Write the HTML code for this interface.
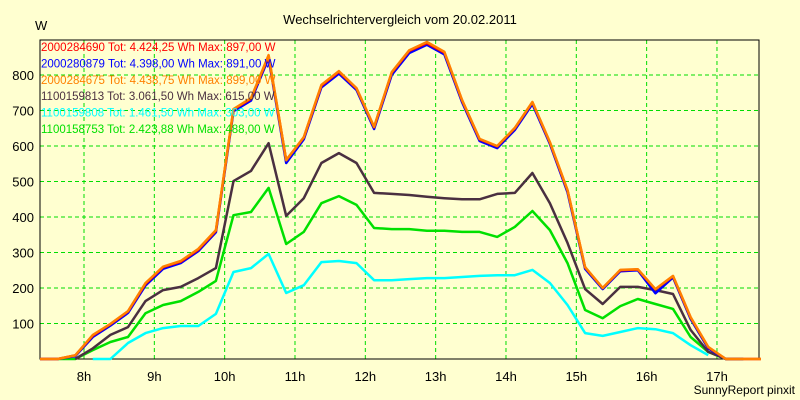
<!DOCTYPE html>
<html><head><meta charset="utf-8"><style>
html,body{margin:0;padding:0;background:#ffffd0;}
svg{display:block;font-family:"Liberation Sans",sans-serif;}
</style></head><body>
<svg id="chart" width="800" height="400" viewBox="0 0 800 400">
<rect x="0" y="0" width="800" height="400" fill="#ffffd0"/>
<text x="400" y="24" text-anchor="middle" font-size="13" fill="#000">Wechselrichtervergleich vom 20.02.2011</text>
<text x="35" y="30" font-size="13" fill="#000">W</text>
<text x="795" y="394" text-anchor="end" font-size="12" fill="#000">SunnyReport pinxit</text>
<g id="grid"></g>
<g id="axes"></g>
<g id="series"></g>
<g id="legend"></g>
</svg>
<script>
const yTicks = [100,200,300,400,500,600,700,800];
const xTickHours = [8,9,10,11,12,13,14,15,16,17];
const xTickLabels = ["8h","9h","10h","11h","12h","13h","14h","15h","16h","17h"];
const startHour = 7.375;
const stepHour = 0.25;
const seriesNames = ["2000284690 Tot: 4.424,25 Wh Max: 897,00 W","2000280879 Tot: 4.398,00 Wh Max: 891,00 W","2000284675 Tot: 4.438,75 Wh Max: 899,00 W","1100159813 Tot: 3.061,50 Wh Max: 615,00 W","1100159808 Tot: 1.461,50 Wh Max: 303,00 W","1100158753 Tot: 2.423,88 Wh Max: 488,00 W"];
const seriesColors = ["#ff0000","#0000ff","#ff8000","#4a3040","#00ffff","#00e000"];
const valsRed = [0,0,10,66,98,134,212,259,274,308,361,703,733,853,560,624,770,809,762,653,806,868,890,863,729,619,599,650,723,610,475,258,200,250,252,196,233,117,33,0,0,0];
const valsBlue = [0,0,8,62,94,130,207,254,270,304,357,698,728,848,552,619,765,804,758,648,800,862,885,858,724,614,594,645,718,606,470,254,197,247,250,185,230,113,30,0,0,null];
const valsOrange = [0,0,10,68,99,135,214,260,276,310,363,704,735,856,560,625,772,811,763,654,808,870,893,865,730,620,600,651,724,611,476,259,200,251,253,197,234,118,34,0,0,0];
const valsBlack = [null,null,0,30,68,90,163,194,203,228,256,501,530,608,403,453,552,580,552,468,465,462,457,453,450,450,465,468,524,439,327,197,155,203,203,194,183,82,20,0,null,null];
const valsCyan = [null,null,null,0,0,45,73,87,93,93,127,245,256,296,186,208,273,276,270,222,222,225,228,228,231,234,236,236,251,214,152,73,65,76,87,84,73,39,11,null,null,null];
const valsGreen = [null,0,0,25,48,62,129,152,163,189,220,405,414,482,324,358,439,459,434,369,366,366,361,361,358,358,344,372,417,363,270,138,115,149,169,155,141,62,20,0,0,null];
const seriesValues = [valsRed,valsBlue,valsOrange,valsBlack,valsCyan,valsGreen];
const drawOrder = [4,5,3,1,0,2];

const NS="http://www.w3.org/2000/svg";
const plotLeft=40,plotRight=759,plotTop=40,plotBottom=359;
function xScale(h){return 84+(h-8)*70.33;}
function yScale(v){return plotBottom-v*0.355;}
function mk(tag,attrs,parent){const e=document.createElementNS(NS,tag);for(const k in attrs)e.setAttribute(k,attrs[k]);parent.appendChild(e);return e;}

const grid=document.getElementById('grid');
yTicks.forEach(v=>{
  const l=mk('line',{x1:plotLeft,x2:plotRight,y1:yScale(v),y2:yScale(v),stroke:'#00dd00','stroke-dasharray':'4,3','stroke-width':1},grid);
  
  
});
xTickHours.forEach(h=>{
  const l=mk('line',{x1:xScale(h),x2:xScale(h),y1:plotTop,y2:plotBottom,stroke:'#00dd00','stroke-dasharray':'4,3','stroke-width':1},grid);
  
  
});
const axes=document.getElementById('axes');
const fr=mk('path',{d:`M${plotLeft},${plotTop}H${plotRight}V${plotBottom}H${plotLeft}Z`,fill:'none',stroke:'#000','stroke-width':1},axes);


yTicks.forEach(v=>{
  const t=mk('text',{x:34,y:yScale(v)+5,'text-anchor':'end','font-size':13,fill:'#000'},axes);
  t.textContent=v;
  
  
});
xTickHours.forEach((h,i)=>{
  const t=mk('text',{x:xScale(h),y:381,'text-anchor':'middle','font-size':13,fill:'#000'},axes);
  t.textContent=xTickLabels[i];
  
  
});
const sg=document.getElementById('series');
drawOrder.forEach(si=>{
  const vals=seriesValues[si];let d='';let pen=false;
  vals.forEach((v,k)=>{
    if(v===null){pen=false;return;}
    const x=xScale(startHour+k*stepHour).toFixed(1),y=yScale(v).toFixed(1);
    d+=(pen?'L':'M')+x+','+y;pen=true;
  });
  const p=mk('path',{d:d,fill:'none',stroke:seriesColors[si],'stroke-width':2.5,'stroke-linejoin':'round'},sg);
  
  
});
const lg=document.getElementById('legend');
seriesNames.forEach((n,i)=>{
  const t=mk('text',{x:41,y:51+i*16.4,'font-size':11.5,fill:seriesColors[i]},lg);
  t.textContent=n;
  
  
});
</script>
</body></html>
